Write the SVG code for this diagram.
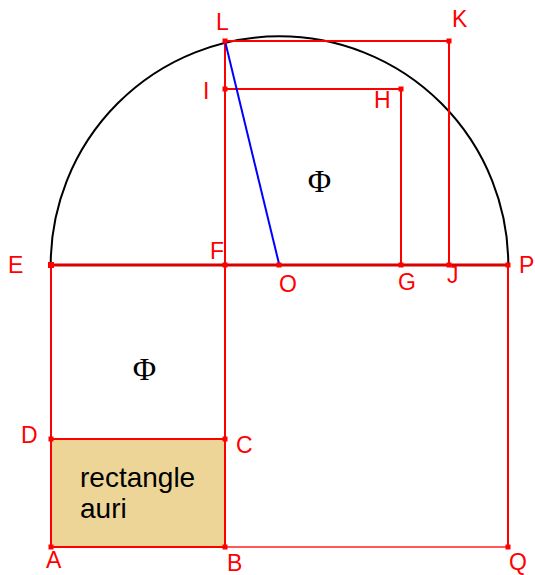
<svg xmlns="http://www.w3.org/2000/svg" width="535" height="575" viewBox="0 0 535 575">
<style>
.ln{stroke:#ff0000;stroke-width:2;fill:none}
.thin{stroke:#ff2020;stroke-width:1.5;fill:none}
.base{stroke:#d80000;stroke-width:3;fill:none}
.pt{fill:#ff0000}
.lbl{font-family:"Liberation Sans",Arial,sans-serif;font-size:23px;fill:#ff0000}
.phi{font-family:"Liberation Serif","Times New Roman",serif;font-size:32px;fill:#000}
.txt{font-family:"Liberation Sans",Arial,sans-serif;font-size:28px;fill:#000}
</style>
<rect width="535" height="575" fill="#ffffff"/>
<g id="golden-rectangle">
<rect x="51" y="439" width="174" height="108" fill="#edd598"/>
<text class="txt" x="80" y="487">rectangle</text>
<text class="txt" x="80" y="518">auri</text>
</g>
<g id="connectors">
<path d="M 50.7 265 A 228.8 228.8 0 0 1 508.3 265" fill="none" stroke="#000" stroke-width="2"/>
<line class="ln" x1="51" y1="265" x2="51" y2="547"/>
<line class="ln" x1="225" y1="41" x2="225" y2="547"/>
<line class="ln" x1="51" y1="439" x2="225" y2="439"/>
<line class="ln" x1="51" y1="547" x2="225" y2="547"/>
<line class="thin" x1="225" y1="547" x2="508" y2="547"/>
<line class="ln" x1="508" y1="265" x2="508" y2="547"/>
<line class="ln" x1="225" y1="41" x2="449" y2="41"/>
<line class="ln" x1="449" y1="41" x2="449" y2="265"/>
<line class="ln" x1="225" y1="89" x2="401" y2="89"/>
<line class="ln" x1="401" y1="89" x2="401" y2="265"/>
<line class="base" x1="51" y1="265" x2="508" y2="265"/>
<line x1="225" y1="41" x2="279.3" y2="265" stroke="#0000ff" stroke-width="2"/>
</g>
<g id="phi-labels">
<text class="phi" x="144.5" y="380" text-anchor="middle">Φ</text>
<text class="phi" x="319.5" y="192" text-anchor="middle">Φ</text>
</g>
<g id="A"><rect class="pt" x="48.5" y="544.5" width="5" height="5"/><text class="lbl" x="46" y="568">A</text></g>
<g id="B"><rect class="pt" x="222.5" y="544.5" width="5" height="5"/><text class="lbl" x="227" y="571">B</text></g>
<g id="Q"><rect class="pt" x="505.5" y="544.5" width="5" height="5"/><text class="lbl" x="509" y="570">Q</text></g>
<g id="C"><rect class="pt" x="222.5" y="436.5" width="5" height="5"/><text class="lbl" x="236" y="453">C</text></g>
<g id="D"><rect class="pt" x="48.5" y="436.5" width="5" height="5"/><text class="lbl" x="21" y="443">D</text></g>
<g id="E"><rect class="pt" x="48" y="262" width="6" height="6"/><text class="lbl" x="8" y="273">E</text></g>
<g id="F"><rect class="pt" x="222.5" y="262.5" width="5" height="5"/><text class="lbl" x="210" y="259">F</text></g>
<g id="O"><rect class="pt" x="276.5" y="262.5" width="5" height="5"/><text class="lbl" x="279" y="292">O</text></g>
<g id="G"><rect class="pt" x="398.5" y="262.5" width="5" height="5"/><text class="lbl" x="398" y="290">G</text></g>
<g id="J"><rect class="pt" x="446.5" y="262.5" width="5" height="5"/><text class="lbl" x="447" y="283">J</text></g>
<g id="P"><rect class="pt" x="505.5" y="262.5" width="5" height="5"/><text class="lbl" x="519" y="273">P</text></g>
<g id="L"><rect class="pt" x="222.5" y="38.5" width="5" height="5"/><text class="lbl" x="216" y="30">L</text></g>
<g id="K"><rect class="pt" x="446.5" y="38.5" width="5" height="5"/><text class="lbl" x="452" y="27">K</text></g>
<g id="I"><rect class="pt" x="222.5" y="86.5" width="5" height="5"/><text class="lbl" x="203" y="99">I</text></g>
<g id="H"><rect class="pt" x="398.5" y="86.5" width="5" height="5"/><text class="lbl" x="374" y="108">H</text></g>
</svg>
